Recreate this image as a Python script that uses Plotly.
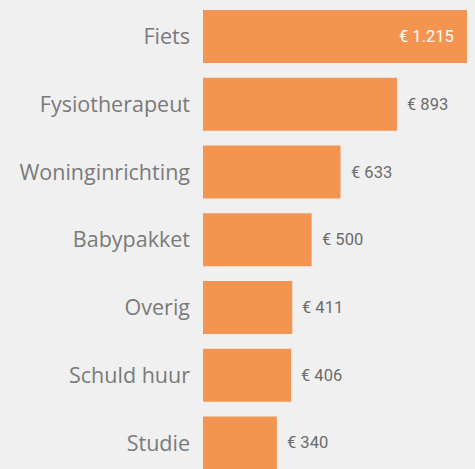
import plotly.graph_objects as go

categories = ["Fiets", "Fysiotherapeut", "Woninginrichting", "Babypakket", "Overig", "Schuld huur", "Studie"]
values = [1215, 893, 633, 500, 411, 406, 340]

def fmt(v):
    s = f"{v:,}".replace(",", ".")
    return f"€ {s}"

positions = list(range(len(categories)))
BAR = "#F39551"
BG = "#F0F0F0"

fig = go.Figure(go.Bar(
    x=values, y=positions, orientation="h",
    marker=dict(color=BAR, line=dict(width=0)),
    width=0.78, hoverinfo="skip",
))

annotations = []
for p, v in zip(positions, values):
    inside = v > 1000
    annotations.append(dict(
        x=v, y=p, xref="x", yref="y", text=fmt(v), showarrow=False,
        xanchor="right" if inside else "left",
        xshift=-11 if inside else 8,
        font=dict(family="Roboto", size=16.5, color="#FFFFFF" if inside else "#6B6B6B"),
    ))

fig.update_layout(
    width=475, height=469, autosize=False,
    margin=dict(l=203, r=8, t=0, b=0),
    paper_bgcolor=BG, plot_bgcolor=BG,
    showlegend=False,
    annotations=annotations,
    xaxis=dict(visible=False, range=[0, 1215], fixedrange=True),
    yaxis=dict(
        range=[6.384, -0.539], tickmode="array", tickvals=positions, ticktext=categories,
        showgrid=False, zeroline=False, showline=False, ticks="",
        tickfont=dict(family="Open Sans", size=21.5, color="#7A7A7A"),
        ticklabelstandoff=12,
    ),
)

fig.write_html(
    "out.html",
    config={"displayModeBar": False},
    post_script="document.body.style.margin='0';document.body.style.overflow='hidden';document.body.style.background='%s';" % BG,
)
